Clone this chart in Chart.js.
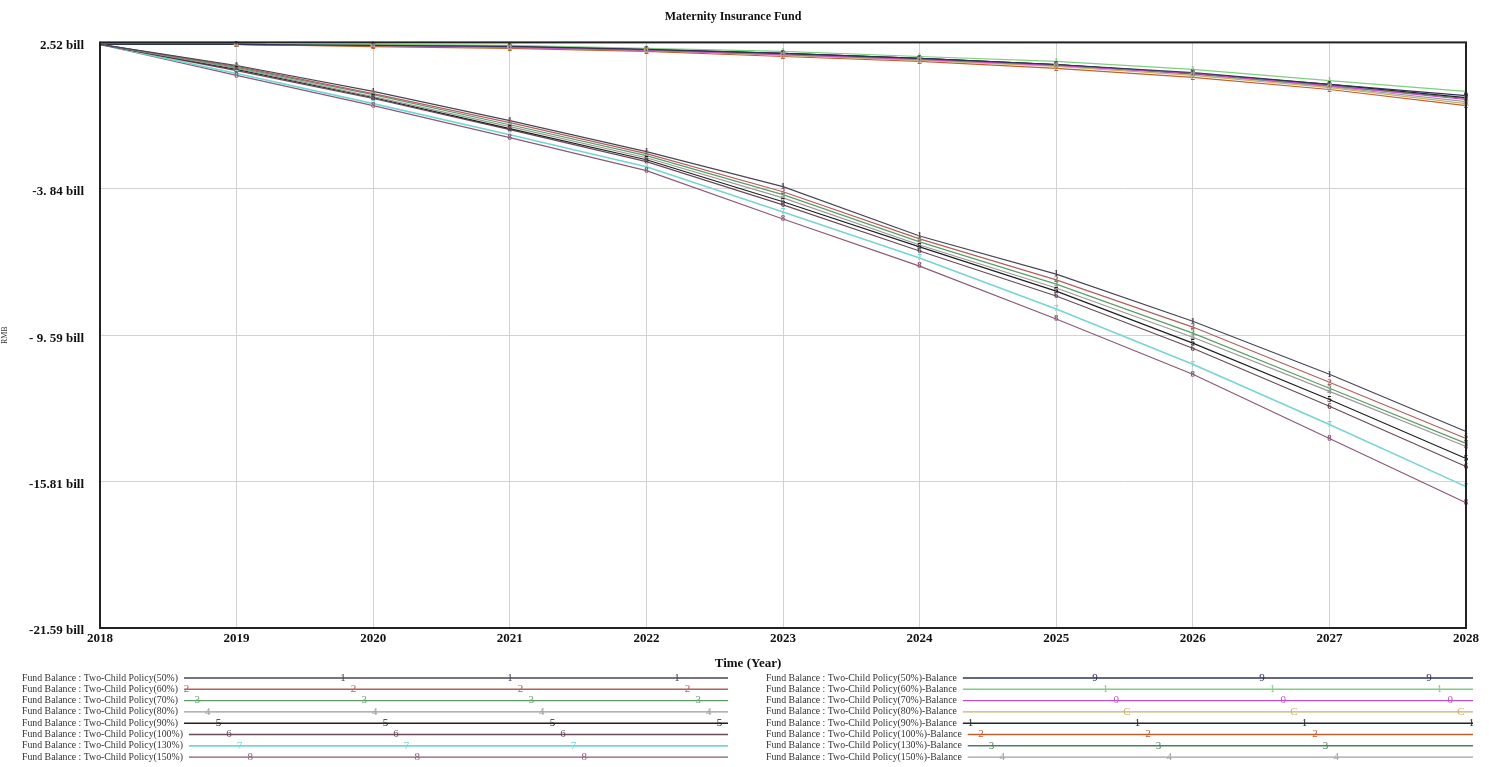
<!DOCTYPE html>
<html>
<head>
<meta charset="utf-8">
<title>Maternity Insurance Fund</title>
<script src="https://cdn.jsdelivr.net/npm/chart.js@4.4.1/dist/chart.umd.min.js"></script>
<style>
  html, body { margin: 0; padding: 0; background: #fff; }
  canvas { display: block; }
</style>
</head>
<body>
<canvas id="fundChart" width="1489" height="767"></canvas>
<script>
// time axis
const years = ['2018', '2019', '2020', '2021', '2022', '2023', '2024', '2025', '2026', '2027', '2028'];

// y axis ticks (values in billions, labels as printed)
const yTickValues = [2.52, -3.5075, -9.535, -15.5625, -21.59];
const yTickLabels = ['2.52 bill', '-3. 84 bill', '- 9. 59 bill', '-15.81 bill', '-21.59 bill'];

// Fund Balance : Two-Child Policy(x%)  (billion RMB)
const fund50  = [2.44, 1.57, 0.50, -0.70, -1.98, -3.42, -5.45, -7.02, -8.96, -11.14, -13.50];
const fund60  = [2.44, 1.53, 0.41, -0.78, -2.06, -3.63, -5.57, -7.26, -9.20, -11.47, -13.79];
const fund70  = [2.44, 1.49, 0.37, -0.87, -2.14, -3.75, -5.69, -7.43, -9.45, -11.72, -13.99];
const fund80  = [2.44, 1.45, 0.29, -0.95, -2.23, -3.88, -5.82, -7.59, -9.62, -11.85, -14.12];
const fund90  = [2.44, 1.41, 0.25, -1.03, -2.31, -4.04, -5.90, -7.72, -9.86, -12.18, -14.61];
const fund100 = [2.44, 1.36, 0.21, -1.07, -2.39, -4.17, -6.07, -7.92, -10.07, -12.46, -14.94];
const fund130 = [2.44, 1.24, 0.00, -1.28, -2.60, -4.46, -6.36, -8.46, -10.73, -13.21, -15.77];
const fund150 = [2.44, 1.16, -0.08, -1.40, -2.76, -4.75, -6.69, -8.87, -11.14, -13.79, -16.43];

// Fund Balance : Two-Child Policy(x%)-Balance
const bal50  = [2.44, 2.44, 2.40, 2.36, 2.23, 2.07, 1.86, 1.61, 1.28, 0.79, 0.33];
const bal60  = [2.44, 2.44, 2.44, 2.40, 2.27, 2.15, 1.94, 1.74, 1.41, 0.95, 0.50];
const bal70  = [2.44, 2.44, 2.40, 2.31, 2.19, 2.02, 1.82, 1.57, 1.24, 0.74, 0.17];
const bal80  = [2.44, 2.44, 2.40, 2.31, 2.19, 1.98, 1.78, 1.53, 1.16, 0.66, 0.00];
const bal90  = [2.44, 2.44, 2.40, 2.36, 2.23, 2.07, 1.86, 1.61, 1.24, 0.79, 0.25];
const bal100 = [2.44, 2.44, 2.35, 2.27, 2.15, 1.94, 1.74, 1.45, 1.08, 0.58, -0.08];
const bal130 = [2.44, 2.44, 2.40, 2.36, 2.23, 2.07, 1.86, 1.61, 1.24, 0.74, 0.21];
const bal150 = [2.44, 2.44, 2.40, 2.31, 2.19, 2.02, 1.82, 1.57, 1.20, 0.70, 0.08];

const SERIF = '"Liberation Serif", "Times New Roman", serif';

function series(label, data, color, mark, width) {
  return {
    label: label,
    data: data,
    borderColor: color,
    backgroundColor: color,
    borderWidth: width || 1.2,
    pointRadius: 0,
    tension: 0,
    mark: mark
  };
}

const leftSets = [
  series('Fund Balance : Two-Child Policy(50%)',  fund50,  '#4a4458', '1'),
  series('Fund Balance : Two-Child Policy(60%)',  fund60,  '#b06060', '2'),
  series('Fund Balance : Two-Child Policy(70%)',  fund70,  '#5f9c68', '3'),
  series('Fund Balance : Two-Child Policy(80%)',  fund80,  '#9a9a9a', '4'),
  series('Fund Balance : Two-Child Policy(90%)',  fund90,  '#202020', '5'),
  series('Fund Balance : Two-Child Policy(100%)', fund100, '#6a4a5a', '6'),
  series('Fund Balance : Two-Child Policy(130%)', fund130, '#78d4d4', '7', 1.6),
  series('Fund Balance : Two-Child Policy(150%)', fund150, '#8a5a78', '8')
];
const rightSets = [
  series('Fund Balance : Two-Child Policy(50%)-Balance',  bal50,  '#2e3458', '9'),
  series('Fund Balance : Two-Child Policy(60%)-Balance',  bal60,  '#7fcf7f', '1'),
  series('Fund Balance : Two-Child Policy(70%)-Balance',  bal70,  '#c050c0', '0'),
  series('Fund Balance : Two-Child Policy(80%)-Balance',  bal80,  '#c8b070', 'C'),
  series('Fund Balance : Two-Child Policy(90%)-Balance',  bal90,  '#252525', '1'),
  series('Fund Balance : Two-Child Policy(100%)-Balance', bal100, '#c0602e', '2'),
  series('Fund Balance : Two-Child Policy(130%)-Balance', bal130, '#4f7f5a', '3'),
  series('Fund Balance : Two-Child Policy(150%)-Balance', bal150, '#a0a0a0', '4')
];

// numbered markers, frame, axis caption and the two-column legend
const vensimPlugin = {
  id: 'vensim',
  afterDatasetsDraw(chart) {
    const ctx = chart.ctx;
    const area = chart.chartArea;
    ctx.save();
    ctx.font = 'bold 9px ' + SERIF;
    ctx.textAlign = 'center';
    ctx.textBaseline = 'middle';
    chart.data.datasets.forEach((ds, i) => {
      const meta = chart.getDatasetMeta(i);
      ctx.fillStyle = ds.borderColor;
      meta.data.forEach((pt, k) => {
        if (k === 0) return;
        ctx.fillText(ds.mark, pt.x, pt.y);
      });
    });
    ctx.strokeStyle = '#222';
    ctx.lineWidth = 2;
    ctx.strokeRect(area.left, area.top, area.right - area.left, area.bottom - area.top);
    ctx.restore();
  },
  afterDraw(chart) {
    const ctx = chart.ctx;
    ctx.save();
    ctx.fillStyle = '#111';
    ctx.font = 'bold 13px ' + SERIF;
    ctx.textAlign = 'center';
    ctx.textBaseline = 'middle';
    ctx.fillText('Time (Year)', 748, 664);

    const cols = [
      { sets: leftSets,  textX: 22,  lineEnd: 728,  base: 176 },
      { sets: rightSets, textX: 766, lineEnd: 1473, base: 1095 }
    ];
    cols.forEach(col => {
      col.sets.forEach((ds, i) => {
        const y = 678 + i * 11.3;
        ctx.font = '9.8px ' + SERIF;
        ctx.textAlign = 'left';
        ctx.fillStyle = '#333';
        ctx.fillText(ds.label, col.textX, y);
        const start = col.textX + ctx.measureText(ds.label).width + 6;
        ctx.strokeStyle = ds.borderColor;
        ctx.lineWidth = ds.borderWidth + 0.2;
        ctx.beginPath();
        ctx.moveTo(start, y);
        ctx.lineTo(col.lineEnd, y);
        ctx.stroke();
        ctx.font = '11px ' + SERIF;
        ctx.textAlign = 'center';
        ctx.fillStyle = ds.borderColor;
        let mx = col.base + i * 10.6;
        while (mx - 167 >= start) mx -= 167;
        for (; mx <= col.lineEnd + 1; mx += 167) {
          if (mx >= start) ctx.fillText(ds.mark, mx, y);
        }
      });
    });
    ctx.restore();
  }
};

new Chart(document.getElementById('fundChart'), {
  type: 'line',
  data: {
    labels: years,
    datasets: leftSets.concat(rightSets)
  },
  options: {
    responsive: false,
    animation: false,
    layout: { padding: { left: 0, right: 23, top: 0, bottom: 0 } },
    plugins: {
      legend: { display: false },
      tooltip: { enabled: false },
      title: {
        display: true,
        text: 'Maternity Insurance Fund',
        color: '#111',
        font: { family: SERIF, size: 12, weight: 'bold' },
        padding: { top: 10, bottom: 18 }
      }
    },
    scales: {
      x: {
        type: 'category',
        offset: false,
        grid: { color: '#d2d2d2', drawTicks: false },
        border: { display: false },
        ticks: {
          color: '#111',
          font: { family: SERIF, size: 13, weight: 'bold' },
          padding: 3,
          maxRotation: 0,
          autoSkip: false
        },
        afterFit(scale) { scale.height = 139; }
      },
      y: {
        min: -21.59,
        max: 2.52,
        afterBuildTicks(scale) {
          scale.ticks = yTickValues.slice().reverse().map(v => ({ value: v }));
        },
        grid: { color: '#d2d2d2', drawTicks: false },
        border: { display: false },
        ticks: {
          color: '#111',
          font: { family: SERIF, size: 13, weight: 'bold' },
          padding: 16,
          labelOffset: 3,
          callback(value) {
            let best = 0;
            yTickValues.forEach((v, i) => {
              if (Math.abs(v - value) < Math.abs(yTickValues[best] - value)) best = i;
            });
            return yTickLabels[best];
          }
        },
        title: {
          display: true,
          text: 'RMB',
          color: '#333',
          font: { family: SERIF, size: 8 },
          padding: { top: 0, bottom: 0 }
        },
        afterFit(scale) { scale.width = 100; }
      }
    }
  },
  plugins: [vensimPlugin]
});
</script>
</body>
</html>
